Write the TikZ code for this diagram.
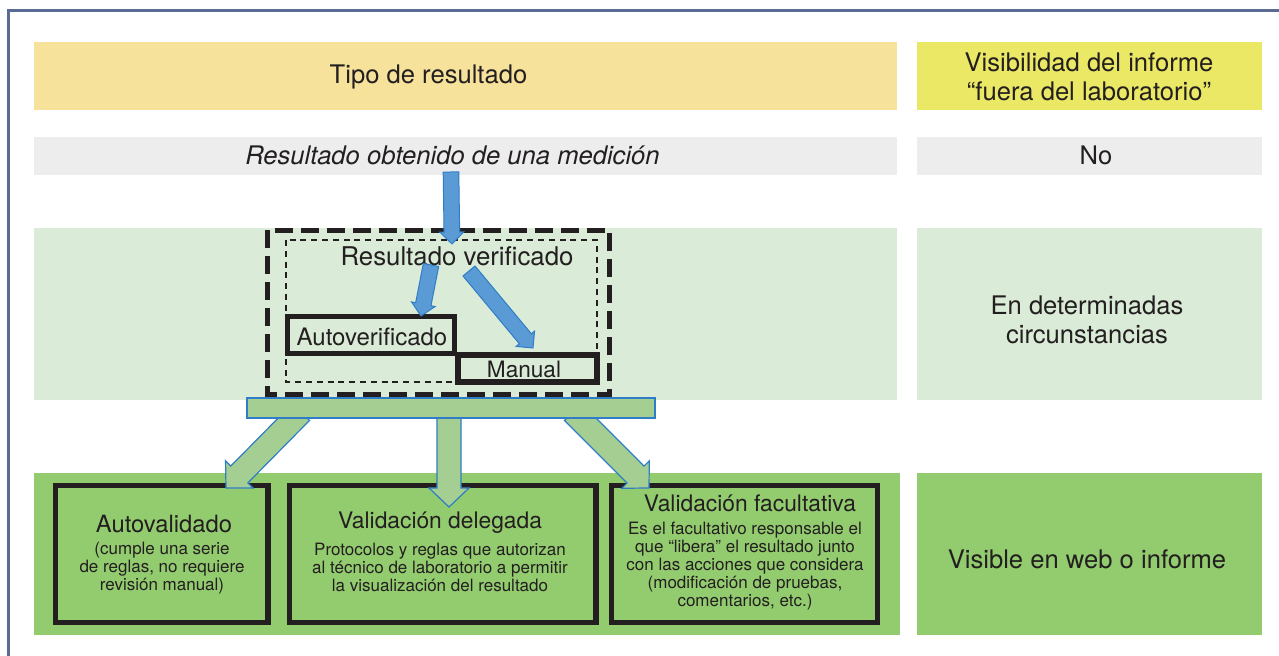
\documentclass[tikz,border=0pt]{standalone}
\usepackage{fontspec}
\setmainfont{TeX Gyre Heros}
\usepackage{tikz}
\usetikzlibrary{calc}
\definecolor{tipoyellow}{HTML}{F6E29B}
\definecolor{visyellow}{HTML}{EAE865}
\definecolor{rowgray}{HTML}{EDEDED}
\definecolor{palegreen}{HTML}{DAEBD8}
\definecolor{leafgreen}{HTML}{93CB6F}
\definecolor{sagegreen}{HTML}{A5CF92}
\definecolor{skyblue}{HTML}{5B9BD5}
\definecolor{edgeblue}{HTML}{2F7DC6}
\definecolor{framegray}{HTML}{5A6B94}
\definecolor{inkblack}{HTML}{231F20}
\tikzset{
 big text/.style={font=\fontsize{12.8}{14.5}\selectfont,text=inkblack,align=center,inner sep=0pt},
 mid text/.style={font=\fontsize{11.3}{13}\selectfont,text=inkblack,inner sep=0pt},
 box title/.style={font=\fontsize{11.4}{13}\selectfont,text=inkblack,inner sep=0pt},
 small text/.style={font=\fontsize{8.5}{9}\selectfont,text=inkblack,align=center,inner sep=0pt},
 thick box/.style={rectangle,draw=inkblack,line width=2.7pt,inner sep=0pt},
 block arrow/.style n args={3}{to path={
   -- ($(\tikztostart)!#1!90:(\tikztotarget)$)
   -- ($(\tikztotarget)!#3!(\tikztostart)!#1!-90:(\tikztostart)$)
   -- ($(\tikztotarget)!#3!(\tikztostart)!#2!-90:(\tikztostart)$)
   -- (\tikztotarget)
   -- ($(\tikztotarget)!#3!(\tikztostart)!#2!90:(\tikztostart)$)
   -- ($(\tikztotarget)!#3!(\tikztostart)!#1!90:(\tikztostart)$)
   -- ($(\tikztostart)!#1!-90:(\tikztotarget)$) -- cycle}},
 blue arrow/.style={fill=skyblue,draw=edgeblue,line width=0.5pt,line join=miter,
   block arrow={3.9pt}{6pt}{6pt}},
 green arrow/.style={fill=sagegreen,draw=edgeblue,line width=0.6pt,line join=miter,
   block arrow={6pt}{9.7pt}{9.5pt}}}

\begin{document}
\begin{tikzpicture}[x=0.5pt,y=-0.5pt]
  \useasboundingbox (0,0) rectangle (1279,656);
  % bands of the table
  \fill[tipoyellow] (34,42) rectangle (897,110);
  \fill[visyellow] (917,42) rectangle (1262,110);
  \fill[rowgray] (34,137) rectangle (897,175);
  \fill[rowgray] (917,137) rectangle (1262,175);
  \fill[palegreen] (34,228) rectangle (897,400);
  \fill[palegreen] (917,228) rectangle (1262,400);
  \fill[leafgreen] (34,473) rectangle (900,635);
  \fill[leafgreen] (917,473) rectangle (1262,635);
  \draw[framegray,line width=1.3pt] (8.5,656) -- (8.5,10.5) -- (1279,10.5);

  \node[big text] (tipo) at (428.5,77) {Tipo de resultado};
  \node[big text] (visib) at (1089,77) {Visibilidad del informe\\“fuera del laboratorio”};
  \node[big text,font=\fontsize{12.8}{14.5}\selectfont\itshape] (medida) at (452.5,155) {Resultado obtenido de una medición};
  \node[big text] (no) at (1096,155) {No};
  \node[big text] (circ) at (1087,320) {En determinadas\\circunstancias};
  \node[big text] (web) at (1087,559) {Visible en web o informe};

  % verification area
  \draw[inkblack,line width=2.6pt,dash pattern=on 9pt off 4pt] (267.5,230.5) rectangle (609.5,395);
  \draw[inkblack,line width=1.1pt,dash pattern=on 3pt off 2.4pt] (286,240) rectangle (597,382);
  \node[thick box,minimum width=83.5pt,minimum height=18.5pt] (autover) at (371,335) {};
  \node[thick box,minimum width=69.5pt,minimum height=13.5pt] (manual) at (527.5,368.5) {};
  \node[mid text,font=\fontsize{12.9}{15}\selectfont] (verif) at (457,256) {Resultado verificado};
  \node[mid text,font=\fontsize{12}{14}\selectfont] at (372,337) {Autoverificado};
  \node[mid text] at (524,369) {Manual};

  \coordinate (m0) at (451,172);
  \coordinate (v0) at (452,244);
  \coordinate (v1) at (431,265);
  \coordinate (a1) at (421,316);
  \coordinate (v2) at (469,271);
  \coordinate (a2) at (533,348);
  \draw[blue arrow] (m0) to (v0);
  \draw[blue arrow] (v1) to (a1);
  \draw[blue arrow] (v2) to (a2);

  % validation boxes
  \node[thick box,minimum width=106.25pt,minimum height=68.5pt] (autoval) at (161.75,554) {};
  \node[thick box,minimum width=153.25pt,minimum height=68.5pt] (deleg) at (442.75,554) {};
  \node[thick box,minimum width=133pt,minimum height=68.5pt] (facult) at (744.5,554) {};
  \node[box title,font=\fontsize{11.9}{13}\selectfont] at (164,524) {Autovalidado};
  \node[small text] at (162,568) {(cumple una serie\\de reglas, no requiere\\revisión manual)};
  \node[box title] at (440,523) {Validación delegada};
  \node[small text] at (440,567) {Protocolos y reglas que autorizan\\al técnico de laboratorio a permitir\\la visualización del resultado};
  \node[box title] at (750,503) {Validación facultativa};
  \node[small text] at (745,566) {Es el facultativo responsable el\\que “libera” el resultado junto\\con las acciones que considera\\(modificación de pruebas,\\comentarios, etc.)};

  \coordinate (b1) at (301,412);
  \coordinate (t1) at (226,488);
  \coordinate (b2) at (449,410);
  \coordinate (t2) at (449,507);
  \coordinate (b3) at (573,412);
  \coordinate (t3) at (649,488);
  \draw[green arrow] (b1) to (t1);
  \draw[green arrow,block arrow={6pt}{10pt}{9.5pt}] (b2) to (t2);
  \draw[green arrow] (b3) to (t3);
  \node[rectangle,fill=sagegreen,draw=edgeblue,line width=0.6pt,inner sep=0pt,
        minimum width=204pt,minimum height=10pt] (bar) at (451,408) {};
\end{tikzpicture}
\end{document}
